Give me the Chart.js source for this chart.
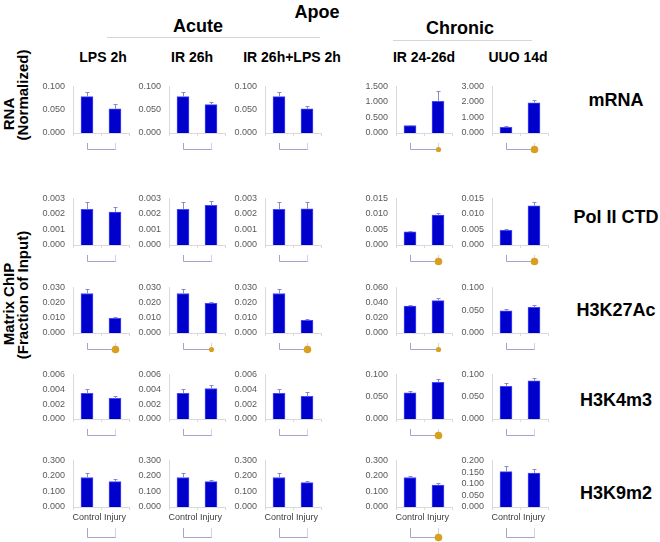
<!DOCTYPE html>
<html>
<head>
<meta charset="utf-8">
<script src="https://cdn.jsdelivr.net/npm/chart.js@4.4.1/dist/chart.umd.min.js"></script>
<style>
  body { margin: 0; background: #fff; }
  #fig { position: relative; width: 660px; height: 542px; font-family: 'Liberation Sans', Arial, sans-serif; font-weight: bold; color: #000; }
  .lbl { position: absolute; white-space: nowrap; transform: translate(-50%, -50%); }
  .rot { transform: translate(-50%, -50%) rotate(-90deg); }
  .rule { position: absolute; height: 1px; background: #d6d6d6; }
  canvas { position: absolute; }
</style>
</head>
<body>
<div id="fig">
  <div class="lbl" style="left:317px;top:12px;font-size:18px">Apoe</div>
  <div class="lbl" style="left:198px;top:26px;font-size:18px">Acute</div>
  <div class="lbl" style="left:460px;top:28px;font-size:18px">Chronic</div>
  <div class="rule" style="left:107px;top:37px;width:213px"></div>
  <div class="rule" style="left:393px;top:40px;width:139px"></div>
  <div class="lbl rot" style="left:8px;top:114px;font-size:15px">RNA</div>
  <div class="lbl rot" style="left:22px;top:95px;font-size:15px">(Normalized)</div>
  <div class="lbl rot" style="left:8px;top:304px;font-size:15px">Matrix ChIP</div>
  <div class="lbl rot" style="left:22px;top:295px;font-size:15px">(Fraction of Input)</div>
</div>
<script>
const columns = ['LPS 2h', 'IR 26h', 'IR 26h+LPS 2h', 'IR 24-26d', 'UUO 14d'];
const marks = ['mRNA', 'Pol II CTD', 'H3K27Ac', 'H3K4m3', 'H3K9m2'];
const categories = ['Control', 'Injury'];

// one row per mark, one entry per column
const controlMean = [
  [0.078, 0.078, 0.078, 0.24, 0.37],
  [0.0023, 0.0023, 0.0023, 0.0042, 0.0047],
  [0.026, 0.026, 0.026, 0.0355, 0.0487],
  [0.00345, 0.00345, 0.00345, 0.0584, 0.0734],
  [0.190, 0.190, 0.190, 0.190, 0.152]
];
const injuryMean = [
  [0.052, 0.061, 0.052, 1.02, 1.95],
  [0.00212, 0.00256, 0.00233, 0.0096, 0.0126],
  [0.0097, 0.0195, 0.0083, 0.0426, 0.0564],
  [0.00278, 0.0041, 0.00306, 0.0825, 0.0855],
  [0.163, 0.163, 0.157, 0.141, 0.146]
];
const controlErr = [
  [0.010, 0.010, 0.010, 0.03, 0.06],
  [0.00046, 0.00046, 0.00046, 0.0004, 0.0005],
  [0.003, 0.003, 0.003, 0.0015, 0.0043],
  [0.0006, 0.0006, 0.0006, 0.0033, 0.0066],
  [0.029, 0.029, 0.029, 0.010, 0.022]
];
const injuryErr = [
  [0.010, 0.005, 0.007, 0.32, 0.19],
  [0.00034, 0.00025, 0.00046, 0.0008, 0.0014],
  [0.0006, 0.0012, 0.0006, 0.0028, 0.0046],
  [0.0003, 0.0005, 0.0006, 0.0065, 0.0059],
  [0.015, 0.013, 0.013, 0.012, 0.018]
];
const axisMax = [
  [0.1, 0.1, 0.1, 1.5, 3],
  [0.003, 0.003, 0.003, 0.015, 0.015],
  [0.03, 0.03, 0.03, 0.06, 0.1],
  [0.006, 0.006, 0.006, 0.1, 0.1],
  [0.3, 0.3, 0.3, 0.3, 0.2]
];
const axisStep = [
  [0.05, 0.05, 0.05, 0.5, 1],
  [0.001, 0.001, 0.001, 0.005, 0.005],
  [0.01, 0.01, 0.01, 0.02, 0.05],
  [0.002, 0.002, 0.002, 0.05, 0.05],
  [0.1, 0.1, 0.1, 0.1, 0.05]
];
// dot under bracket: 0 none, 1 small, 2 large
const signif = [
  [0, 0, 0, 1, 2],
  [0, 0, 0, 2, 2],
  [2, 1, 2, 1, 0],
  [0, 0, 0, 2, 0],
  [0, 0, 0, 2, 0]
];

// layout (pixels)
const plotLeft = [73, 169, 265, 396, 492];
const plotW = 56;
const plotTop = [81, 193, 282, 369, 455];
const plotBottom = [133, 245, 333, 419, 507];
const colTitleX = [103, 192, 292, 424, 518];
const markY = [100, 217, 310, 400, 493];

const fig = document.getElementById('fig');
Chart.defaults.font.family = "'Liberation Sans', Arial, sans-serif";

function addLabel(text, x, y, size) {
  const d = document.createElement('div');
  d.className = 'lbl';
  d.style.left = x + 'px';
  d.style.top = y + 'px';
  d.style.fontSize = size + 'px';
  d.textContent = text;
  fig.appendChild(d);
}
columns.forEach((t, c) => addLabel(t, colTitleX[c], 57, 14));
marks.forEach((t, r) => addLabel(t, 616, markY[r], 18));

const extras = {
  id: 'extras',
  afterDatasetsDraw(chart, args, opts) {
    const { ctx, chartArea } = chart;
    const xs = chart.scales.x, ys = chart.scales.y;
    const meta = chart.getDatasetMeta(0);
    const vals = chart.data.datasets[0].data;
    ctx.save();
    // upper error bars
    ctx.strokeStyle = '#8a8ac4';
    ctx.lineWidth = 1;
    opts.errors.forEach((e, i) => {
      const px = Math.round(meta.data[i].x) + 0.5;
      const y0 = ys.getPixelForValue(vals[i]);
      const y1 = Math.round(ys.getPixelForValue(vals[i] + e)) + 0.5;
      ctx.beginPath();
      ctx.moveTo(px, y0);
      ctx.lineTo(px, y1);
      ctx.moveTo(px - 2, y1);
      ctx.lineTo(px + 2, y1);
      ctx.stroke();
    });
    // comparison bracket
    const xa = Math.round(xs.getPixelForValue(0)) + 0.5;
    const xb = Math.round(xs.getPixelForValue(1)) + 0.5;
    const yt = chartArea.bottom + opts.bracketTop;
    const yb = chartArea.bottom + opts.bracketBottom + 0.5;
    ctx.strokeStyle = '#a4a4c8';
    ctx.beginPath();
    ctx.moveTo(xa, yt);
    ctx.lineTo(xa, yb);
    ctx.lineTo(xb, yb);
    ctx.stroke();
    ctx.setLineDash([1, 1]);
    ctx.beginPath();
    ctx.moveTo(xb, yb);
    ctx.lineTo(xb, yt);
    ctx.stroke();
    ctx.setLineDash([]);
    if (opts.dot) {
      ctx.fillStyle = '#d6a11e';
      ctx.beginPath();
      ctx.arc(xb, yb, opts.dot === 2 ? 3.8 : 2.6, 0, Math.PI * 2);
      ctx.fill();
    }
    ctx.restore();
  }
};

marks.forEach((mark, r) => {
  const last = r === marks.length - 1;
  const xH = last ? 16 : 4;
  const padBottom = last ? 22 : 20;
  columns.forEach((col, c) => {
    const plotH = plotBottom[r] - plotTop[r];
    const cv = document.createElement('canvas');
    cv.width = 40 + plotW + 6;
    cv.height = 8 + plotH + xH + padBottom;
    cv.style.left = (plotLeft[c] - 40) + 'px';
    cv.style.top = (plotTop[r] - 8) + 'px';
    fig.appendChild(cv);

    new Chart(cv, {
      type: 'bar',
      data: {
        labels: categories,
        datasets: [{
          data: [controlMean[r][c], injuryMean[r][c]],
          backgroundColor: '#0000cc',
          borderColor: '#4646ff',
          borderWidth: 1,
          barThickness: 12
        }]
      },
      options: {
        responsive: false,
        animation: false,
        events: [],
        layout: { padding: { top: 8, right: 6, left: 0, bottom: padBottom } },
        plugins: {
          legend: { display: false },
          tooltip: { enabled: false },
          extras: {
            errors: [controlErr[r][c], injuryErr[r][c]],
            bracketTop: last ? 21 : 10,
            bracketBottom: last ? 30 : 16,
            dot: signif[r][c]
          }
        },
        scales: {
          x: {
            offset: true,
            grid: { offset: true, drawOnChartArea: false, drawTicks: true, tickLength: 3, color: '#d9d9d9' },
            border: { color: '#d9d9d9' },
            ticks: { display: last, autoSkip: false, maxRotation: 0, minRotation: 0, padding: 2, color: '#404040', font: { size: 9 } },
            afterFit: s => { s.height = xH; }
          },
          y: {
            min: 0,
            max: axisMax[r][c],
            grid: { display: false, drawTicks: false },
            border: { color: '#d9d9d9' },
            ticks: {
              stepSize: axisStep[r][c],
              autoSkip: false,
              padding: 8,
              color: '#595959',
              font: { size: 9 },
              callback: v => v.toFixed(3)
            },
            afterFit: s => { s.width = 40; }
          }
        }
      },
      plugins: [extras]
    });
  });
});
</script>
</body>
</html>
